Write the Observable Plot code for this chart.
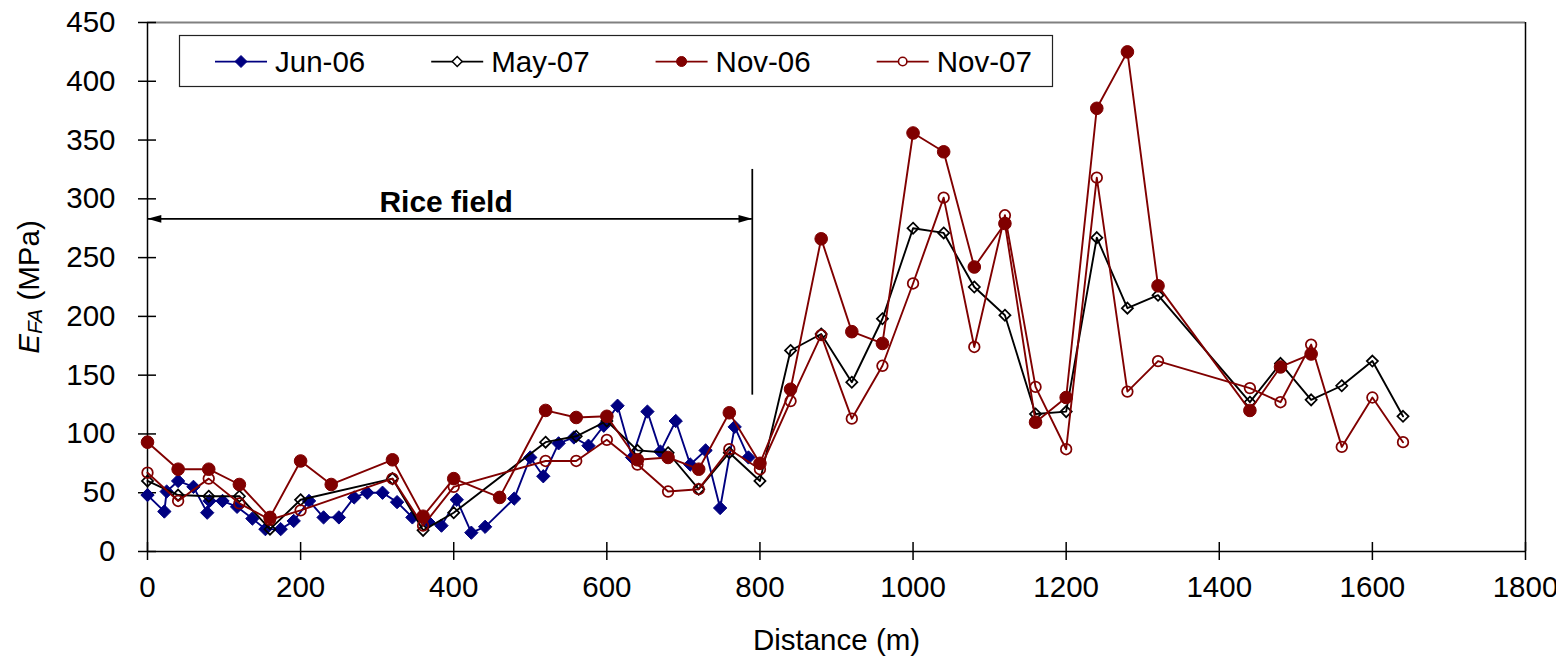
<!DOCTYPE html>
<html><head><meta charset="utf-8">
<script src="https://cdn.jsdelivr.net/npm/d3@7"></script>
<script src="https://cdn.jsdelivr.net/npm/@observablehq/plot@0.6"></script>
<style>
html,body{margin:0;padding:0;background:#fff;}
#chart{position:relative;width:1556px;height:662px;}
</style></head><body><div id="chart"></div>
<script>
// ---- series meta ----
const seriesNames = ["Jun-06", "May-07", "Nov-06", "Nov-07"];
const seriesColors = ["#000080", "#000000", "#800000", "#800000"];
const seriesSymbols = ["diamond2", "diamond2", "circle", "circle"];
const seriesFilled = [true, false, true, false];

// ---- data (distance in m, E_FA in MPa) ----
const jun06Distance = [0,22,25,40,60,78,81,98,117,137,154,174,191,211,230,250,270,287,307,326,346,367,384,404,423,441,479,500,517,537,557,576,596,614,633,653,670,690,709,729,748,767,785];
const jun06E = [48,34,51,60,55,33,43,43,38,28,19,19,26,43,29,29,46,50,50,42,29,25,22,44,16,21,45,80,64,92,97,90,107,124,80,119,85,111,74,86,37,106,80];

const may07Distance = [0,40,80,120,160,200,320,360,400,520,560,600,640,680,720,760,800,840,880,920,960,1000,1040,1080,1120,1160,1200,1240,1280,1320,1440,1480,1520,1560,1600,1640];
const may07E = [60,48,47,47,19,44,62,18,33,93,98,111,86,84,53,84,60,171,185,144,198,275,271,225,201,117,119,267,207,218,127,160,129,141,162,115];

const nov06Distance = [0,40,80,120,160,200,240,320,360,400,460,520,560,600,640,680,720,760,800,840,880,920,960,1000,1040,1080,1120,1160,1200,1240,1280,1320,1440,1480,1520];
const nov06E = [93,70,70,57,29,77,57,78,30,62,46,120,114,115,78,80,70,118,75,138,266,187,177,356,340,242,279,110,131,377,425,226,120,157,168];

const nov07Distance = [0,40,80,120,160,200,320,360,400,520,560,600,640,680,720,760,800,840,880,920,960,1000,1040,1080,1120,1160,1200,1240,1280,1320,1440,1480,1520,1560,1600,1640];
const nov07E = [67,43,62,41,27,35,62,22,55,77,77,95,74,51,53,87,70,128,184,113,158,228,301,174,286,140,87,318,136,162,139,127,176,89,131,93];

// ---- axes ----
const xTicks = [0,200,400,600,800,1000,1200,1400,1600,1800];
const yTicks = [0,50,100,150,200,250,300,350,400,450];
const xTitle = "Distance (m)";
const yTitle = "EFA (MPa)";

// ---- annotation ----
const riceLabel = ["Rice field"];
const riceLabelPos = [390, 297];
const riceArrow = [0, 790, 283];      // x1, x2, E
const riceBoundary = [790, 133, 325]; // x, E1, E2

const allDistance = [jun06Distance, may07Distance, nov06Distance, nov07Distance];
const allE = [jun06E, may07E, nov06E, nov07E];

const tables = seriesNames.map((name, i) =>
  allDistance[i].map((d, j) => ({series: name, distance: d, E: allE[i][j]})));

const FONT = "'Liberation Sans', Arial, Helvetica, sans-serif";
const FS = 29.5;

const arrowRight = {draw(ctx, size) { const s = Math.sqrt(size / Math.PI); ctx.moveTo(0, 0); ctx.lineTo(-2.3 * s, -0.65 * s); ctx.lineTo(-2.3 * s, 0.65 * s); ctx.closePath(); }};
const arrowLeft = {draw(ctx, size) { const s = Math.sqrt(size / Math.PI); ctx.moveTo(0, 0); ctx.lineTo(2.3 * s, -0.65 * s); ctx.lineTo(2.3 * s, 0.65 * s); ctx.closePath(); }};

const seriesMarks = [];
tables.forEach((t, i) => {
  seriesMarks.push(Plot.line(t, {x: "distance", y: "E", stroke: seriesColors[i], strokeWidth: 1.9}));
  seriesMarks.push(Plot.dot(t, {
    x: "distance", y: "E", symbol: seriesSymbols[i],
    r: seriesSymbols[i] === "circle" ? (seriesFilled[i] ? 6.3 : 5.3) : (seriesFilled[i] ? 6.0 : 5.0),
    fill: seriesFilled[i] ? seriesColors[i] : "none",
    stroke: seriesColors[i], strokeWidth: seriesFilled[i] ? 1 : 1.75
  }));
});

const plot = Plot.plot({
  width: 1556, height: 662,
  marginLeft: 147, marginRight: 31, marginTop: 22, marginBottom: 111,
  style: {fontFamily: FONT, fontSize: FS + "px", background: "white", overflow: "visible"},
  x: {domain: [0, 1800]},
  y: {domain: [0, 450]},
  marks: [
    Plot.ruleY([yTicks[yTicks.length - 1]], {stroke: "#808080", strokeWidth: 2}),
    Plot.ruleX([xTicks[xTicks.length - 1]], {stroke: "#000", strokeWidth: 1.5}),
    Plot.axisX({ticks: xTicks, tickSize: 18, dy: -9, tickFormat: () => "", label: null, strokeWidth: 1.5}),
    Plot.axisX({ticks: xTicks, tickSize: 0, tickPadding: 25, label: null, fontSize: FS, tickFormat: d => String(d)}),
    Plot.axisY({ticks: yTicks, tickSize: 18, dx: 9, tickFormat: () => "", label: null, strokeWidth: 1.5}),
    Plot.axisY({ticks: yTicks, tickSize: 0, tickPadding: 32, label: null, fontSize: FS, tickFormat: d => String(d)}),
    Plot.ruleX([0], {stroke: "#000", strokeWidth: 1.5}),
    Plot.ruleY([0], {stroke: "#000", strokeWidth: 1.5}),
    // rice field annotation
    Plot.ruleY([riceArrow[2]], {x1: riceArrow[0], x2: riceArrow[1], stroke: "#000", strokeWidth: 1.75}),
    Plot.dot([riceArrow[0]], {x: d => d, y: () => riceArrow[2], symbol: arrowLeft, r: 6, fill: "#000", stroke: "none"}),
    Plot.dot([riceArrow[1]], {x: d => d, y: () => riceArrow[2], symbol: arrowRight, r: 6, fill: "#000", stroke: "none"}),
    Plot.ruleX([riceBoundary[0]], {y1: riceBoundary[1], y2: riceBoundary[2], stroke: "#000", strokeWidth: 1.75}),
    Plot.text(riceLabel, {x: () => riceLabelPos[0], y: () => riceLabelPos[1], text: d => d, fontWeight: "bold", fontSize: 30, fill: "#000", textAnchor: "middle", lineAnchor: "middle"}),
    ...seriesMarks,
    Plot.text([xTitle], {frameAnchor: "bottom", dy: 89, text: d => d, fontSize: FS, textAnchor: "middle", lineAnchor: "middle", fill: "#000"}),
    Plot.text([yTitle], {frameAnchor: "left", dx: -118, rotate: -90, text: d => d, fontSize: FS, textAnchor: "middle", lineAnchor: "middle", fill: "#000"})
  ]
});

document.getElementById("chart").appendChild(plot);

const svg = d3.select(plot);
// rich y-axis title
svg.selectAll("text").filter(function() { return this.textContent === yTitle; }).each(function() {
  const t = d3.select(this);
  t.text("");
  t.append("tspan").text("E").style("font-style", "italic");
  t.append("tspan").text("FA").style("font-style", "italic").attr("font-size", "21px").attr("dy", "0.15em");
  t.append("tspan").text(" (MPa)").attr("dy", "-0.11em");
});

// legend (inset box)
const lg = svg.append("g").attr("font-family", FONT).attr("font-size", FS).attr("text-anchor", "start");
lg.append("rect").attr("x", 179.5).attr("y", 35.5).attr("width", 873).attr("height", 51)
  .attr("fill", "white").attr("stroke", "#222").attr("stroke-width", 1.2);
let lx = 215;
const ly = 61.5;
seriesNames.forEach((name, i) => {
  lg.append("line").attr("x1", lx).attr("x2", lx + 52).attr("y1", ly).attr("y2", ly)
    .attr("stroke", seriesColors[i]).attr("stroke-width", 1.75);
  const cx = lx + 26;
  const fill = seriesFilled[i] ? seriesColors[i] : "white";
  if (seriesSymbols[i] === "circle") {
    lg.append("circle").attr("cx", cx).attr("cy", ly).attr("r", seriesFilled[i] ? 5 : 4.2)
      .attr("fill", fill).attr("stroke", seriesColors[i]).attr("stroke-width", seriesFilled[i] ? 1 : 1.6);
  } else {
    const h = seriesFilled[i] ? 6 : 5;
    lg.append("path").attr("d", `M${cx},${ly - h}L${cx + h},${ly}L${cx},${ly + h}L${cx - h},${ly}Z`)
      .attr("fill", fill).attr("stroke", seriesColors[i]).attr("stroke-width", seriesFilled[i] ? 1 : 1.5);
  }
  const txt = lg.append("text").attr("x", lx + 60).attr("y", ly).attr("dy", "0.35em")
    .attr("text-anchor", "start").attr("fill", "#000").text(name);
  const w = txt.node().getComputedTextLength();
  lx = lx + 60 + w + 66;
});
</script>
</body></html>
